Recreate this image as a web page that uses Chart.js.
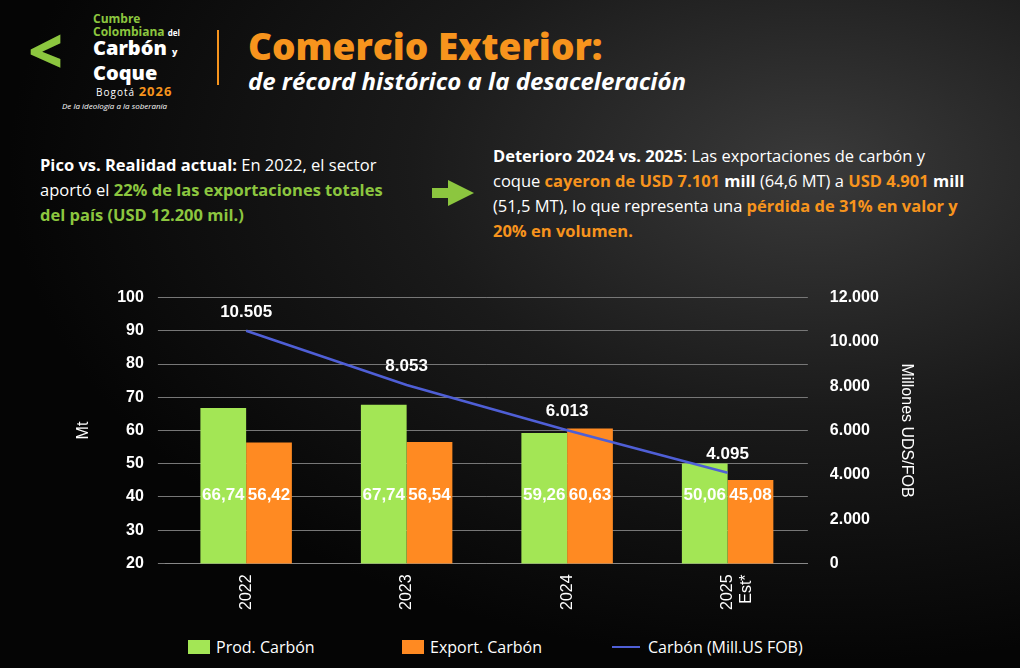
<!DOCTYPE html>
<html><head><meta charset="utf-8">
<script src="https://cdn.jsdelivr.net/npm/chart.js@4"></script>
<style>
body{margin:0;width:1020px;height:668px;overflow:hidden;font-family:"Open Sans","Noto Sans",sans-serif;
background:radial-gradient(ellipse at 80% 25%,#3a3a3a 0%,#1a1a1a 35%,#050505 70%),#000;color:#fff;position:relative}
.abs{position:absolute}
#title{left:248px;top:20px;font-size:37px;font-weight:800;color:#f7941d}
#sub{left:248px;top:64px;font-size:24px;font-weight:700;font-style:italic}
#bar{left:217px;top:30px;width:2px;height:55px;background:#f7941d}
.p{font-size:16.5px;line-height:25px}
.g{color:#8cc63f;font-weight:700}.o{color:#f7941d;font-weight:700}
.lg{position:absolute;top:636px;font-size:16px;display:flex;align-items:center}
</style></head><body>
<div class="abs" style="left:28px;top:12px;width:180px;height:100px">
 <div class="abs" style="left:0;top:8px;font-size:60px;font-weight:900;color:#8cc63f;line-height:60px">&lt;</div>
 <div class="abs" style="left:65px;top:0;font-size:12px;color:#8cc63f;font-weight:700;line-height:13px">Cumbre<br>Colombiana <span style="font-size:8px;color:#fff">del</span></div>
 <div class="abs" style="left:65px;top:25px;font-size:20px;font-weight:800;line-height:21px">Carbón <span style="font-size:9px">y</span><br>Coque</div>
 <div class="abs" style="left:68px;top:70px;font-size:10px;letter-spacing:1px">Bogotá <b style="color:#f7941d;font-size:13px">2026</b></div>
 <div class="abs" style="left:34px;top:88px;font-size:8px;font-style:italic;white-space:nowrap">De la ideología a la soberanía</div>
</div>
<div id="bar" class="abs"></div>
<div id="title" class="abs">Comercio Exterior:</div>
<div id="sub" class="abs">de récord histórico a la desaceleración</div>
<div class="abs p" style="left:40px;top:152px;width:365px"><b>Pico vs. Realidad actual:</b> En 2022, el sector aportó el <span class="g">22% de las exportaciones totales del país (USD 12.200 mil.)</span></div>
<div class="abs" style="left:448px;top:180px;width:0;height:0;border-left:26px solid #8cc63f;border-top:13px solid transparent;border-bottom:13px solid transparent"></div>
<div class="abs" style="left:432px;top:188px;width:18px;height:10px;background:#8cc63f"></div>
<div class="abs p" style="left:493px;top:143px;width:478px"><b>Deterioro 2024 vs. 2025</b>: Las exportaciones de carbón y coque <span class="o">cayeron de USD 7.101</span> <b>mill</b> (64,6 MT) a <span class="o">USD 4.901</span> <b>mill</b> (51,5 MT), lo que representa una <span class="o">pérdida de 31% en valor y 20% en volumen.</span></div>
<div class="abs" style="left:64px;top:274px;width:856px;height:339px"><canvas id="c"></canvas></div>
<div class="lg" style="left:188px"><span style="display:inline-block;width:22px;height:14px;background:#a3e655;margin-right:6px"></span>Prod. Carbón</div>
<div class="lg" style="left:402px"><span style="display:inline-block;width:22px;height:14px;background:#ff8a22;margin-right:6px"></span>Export. Carbón</div>
<div class="lg" style="left:612px"><span style="display:inline-block;width:28px;height:2px;background:#4f5fd6;margin-right:8px"></span>Carbón (Mill.US FOB)</div>
<script>
const categories=[["2022"],["2023"],["2024"],["2025","Est*"]];
const prod=[66.74,67.74,59.26,50.06];
const expo=[56.42,56.54,60.63,45.08];
const carbonFOB=[10505,8053,6013,4095];
const fmtC=v=>v.toFixed(2).replace('.',',');
const fmtT=v=>v.toLocaleString('de-DE');
const labels={id:'lbl',afterDatasetsDraw(ch){const x=ch.ctx;x.save();x.fillStyle='#fff';x.font='bold 17px "Liberation Sans",Arial,sans-serif';x.textAlign='center';
 [0,1].forEach(d=>ch.getDatasetMeta(d).data.forEach((b,i)=>{const v=ch.data.datasets[d].data[i];x.fillText(fmtC(v),b.x,ch.scales.y.getPixelForValue(41)+6);}));
 ch.getDatasetMeta(2).data.forEach((p,i)=>x.fillText(fmtT(carbonFOB[i]),p.x,p.y-14));x.restore();}};
Chart.defaults.font.family='"Liberation Sans",Arial,sans-serif';Chart.defaults.color='#fff';
new Chart(document.getElementById('c'),{data:{labels:categories,datasets:[
{type:'bar',label:'Prod. Carbón',data:prod,backgroundColor:'#a3e655',yAxisID:'y',barPercentage:1,categoryPercentage:0.57,order:2},
{type:'bar',label:'Export. Carbón',data:expo,backgroundColor:'#ff8a22',yAxisID:'y',barPercentage:1,categoryPercentage:0.57,order:2},
{type:'line',label:'Carbón (Mill.US FOB)',data:carbonFOB,borderColor:'#4f5fd6',borderWidth:2.5,pointRadius:0,yAxisID:'y1',order:1}]},
options:{responsive:true,maintainAspectRatio:false,animation:false,layout:{padding:{top:8}},
plugins:{legend:{display:false},tooltip:{enabled:false}},
scales:{x:{grid:{display:false},border:{color:'#888'},ticks:{font:{size:16},color:'#fff',maxRotation:90,minRotation:90}},
y:{min:20,max:100,ticks:{stepSize:10,font:{size:16,weight:'bold'},color:'#fff',padding:14},grid:{color:'#777'},border:{display:false},title:{display:true,text:'Mt',font:{size:16},color:'#fff',padding:10}},
y1:{position:'right',min:0,max:12000,ticks:{stepSize:2000,font:{size:16,weight:'bold'},color:'#fff',padding:14,callback:v=>fmtT(v)},grid:{display:false},border:{display:false},title:{display:true,text:'Millones UDS/FOB',font:{size:16},color:'#fff'}}}},
plugins:[labels]});
</script></body></html>
